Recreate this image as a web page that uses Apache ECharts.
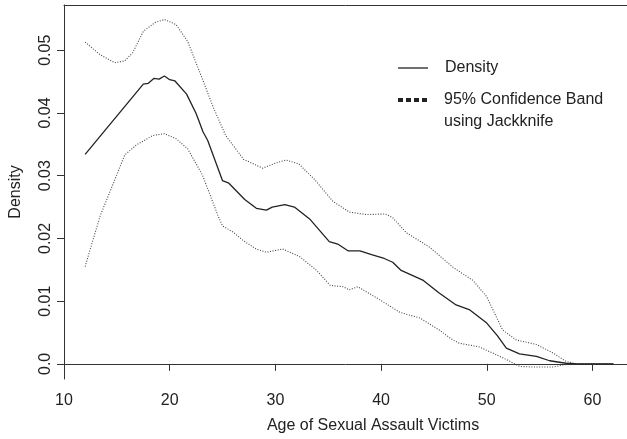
<!DOCTYPE html>
<html>
<head>
<meta charset="utf-8">
<script src="https://cdn.jsdelivr.net/npm/echarts@6/dist/echarts.min.js"></script>
<style>
  html, body { margin: 0; padding: 0; background: #fff; }
  #main { width: 627px; height: 439px; }
</style>
</head>
<body>
<div id="main"></div>
<script>
// tick positions
var xTicks = [10, 20, 30, 40, 50, 60];
var yTicks = [0, 0.01, 0.02, 0.03, 0.04, 0.05];

// kernel density estimate, [age, density]
var density = [
  [12.0, 0.0334], [17.5, 0.0446], [17.95, 0.0447], [18.5, 0.0455], [19.0, 0.0454],
  [19.5, 0.0459], [20.0, 0.0453], [20.5, 0.0451], [21.6, 0.0430], [22.5, 0.0399],
  [23.15, 0.0370], [23.6, 0.0356], [25.0, 0.0292], [25.6, 0.0288], [27.1, 0.0262],
  [28.2, 0.0248], [29.15, 0.0245], [29.7, 0.0250], [30.9, 0.0254], [31.8, 0.0250],
  [33.3, 0.0230], [35.1, 0.0195], [35.9, 0.0191], [36.9, 0.0180], [38.0, 0.0180],
  [39.1, 0.0174], [40.3, 0.0168], [41.1, 0.0162], [41.9, 0.0149], [44.0, 0.0133],
  [45.5, 0.0113], [47.1, 0.0094], [48.4, 0.0086], [50.0, 0.0065], [51.0, 0.0045],
  [51.85, 0.0025], [53.1, 0.0016], [54.7, 0.0012], [55.95, 0.0005], [57.5, 0.0001],
  [58.5, 0.0], [62.0, 0.0]
];

// upper 95% band (jackknife)
var upper = [
  [12.0, 0.0513], [13.4, 0.0493], [14.8, 0.0480], [15.75, 0.0483], [16.5, 0.0496],
  [17.5, 0.0530], [18.6, 0.0544], [19.5, 0.0549], [20.6, 0.0541], [21.7, 0.0514],
  [22.8, 0.0467], [24.1, 0.0410], [25.3, 0.0364], [27.0, 0.0326], [28.8, 0.0312],
  [30.0, 0.0320], [31.0, 0.0325], [32.2, 0.0319], [33.7, 0.0294], [35.45, 0.0259],
  [37.0, 0.0242], [38.6, 0.0238], [40.4, 0.0239], [41.1, 0.0233], [42.4, 0.0209],
  [44.6, 0.0186], [46.8, 0.0154], [48.7, 0.0133], [50.0, 0.0107], [51.5, 0.0054],
  [52.8, 0.0038], [54.7, 0.0031], [56.3, 0.0017], [57.5, 0.0004], [58.5, 0.0],
  [62.0, 0.0]
];

// lower 95% band (jackknife)
var lower = [
  [12.0, 0.0155], [13.4, 0.0235], [14.6, 0.0285], [15.75, 0.0333], [16.85, 0.0349],
  [18.4, 0.0364], [19.5, 0.0367], [20.6, 0.0359], [21.7, 0.0343], [23.1, 0.0301],
  [24.6, 0.0235], [25.0, 0.0220], [26.0, 0.0210], [27.0, 0.0196], [28.2, 0.0183],
  [29.15, 0.0178], [30.7, 0.0183], [32.3, 0.0171], [33.9, 0.0149], [35.2, 0.0125],
  [36.4, 0.0123], [37.0, 0.0118], [37.8, 0.0123], [39.9, 0.0102], [41.8, 0.0082],
  [43.7, 0.0073], [45.5, 0.0054], [46.8, 0.0038], [47.4, 0.0033], [49.3, 0.0027],
  [50.6, 0.0017], [51.85, 0.0007], [53.1, -0.0004], [54.4, -0.0005], [56.3, -0.0005],
  [57.5, -0.0001], [58.5, 0.0], [62.0, 0.0]
];

var ink = '#222';
var frame = '#333';
var font = 'Liberation Sans, Arial, Helvetica, sans-serif';

var myChart = echarts.init(document.getElementById('main'));

function bandLine(data) {
  return {
    type: 'line', data: data, symbol: 'none', silent: true,
    lineStyle: { color: '#444', width: 1.1, type: [1, 1.6] }
  };
}

myChart.setOption({
  animation: false,
  textStyle: { fontFamily: font, color: ink },
  grid: { left: 64, top: 5, bottom: 56, right: 0 },
  xAxis: [{
    type: 'value', min: 10, max: 63.27,
    name: 'Age of Sexual Assault Victims',
    nameLocation: 'middle', nameGap: 39,
    nameTextStyle: { fontSize: 16, color: ink, fontFamily: font, padding: [0, 0, 0, 55] },
    axisLine: { show: true, lineStyle: { color: frame, width: 1 } },
    splitLine: { show: false },
    axisTick: { show: true, length: 7, inside: false, lineStyle: { color: frame }, customValues: xTicks },
    axisLabel: { fontSize: 16, color: ink, margin: 14, customValues: xTicks }
  }, {
    // top edge of the box
    type: 'value', position: 'top', min: 10, max: 63.27,
    axisLine: { show: true, lineStyle: { color: frame, width: 1 } },
    axisTick: { show: false }, axisLabel: { show: false }, splitLine: { show: false }
  }],
  yAxis: {
    type: 'value', min: -0.00241, max: 0.05721,
    name: 'Density',
    nameLocation: 'middle', nameGap: 40,
    nameTextStyle: { fontSize: 16, color: ink, fontFamily: font },
    axisLine: { show: true, lineStyle: { color: frame, width: 1 } },
    splitLine: { show: false },
    axisTick: { show: true, length: 7, inside: false, lineStyle: { color: frame }, customValues: yTicks },
    axisLabel: {
      fontSize: 16, color: ink, margin: 10, rotate: 90, customValues: yTicks,
      formatter: function (v) { return v === 0 ? '0.0' : String(+v.toFixed(2)); }
    }
  },
  series: [
    bandLine(upper),
    bandLine(lower),
    {
      type: 'line', data: density, symbol: 'none', silent: true,
      lineStyle: { color: ink, width: 1.3 }
    }
  ],
  graphic: [
    { type: 'line', shape: { x1: 398, y1: 68, x2: 428, y2: 68 }, style: { stroke: ink, lineWidth: 1.3 } },
    { type: 'text', x: 445, y: 68, style: { text: 'Density', font: '16px ' + font, fill: ink, verticalAlign: 'middle' } },
    { type: 'line', shape: { x1: 398, y1: 100, x2: 429, y2: 100 }, style: { stroke: ink, lineWidth: 4, lineDash: [5, 3] } },
    { type: 'text', x: 444, y: 100, style: { text: '95% Confidence Band', font: '16px ' + font, fill: ink, verticalAlign: 'middle' } },
    { type: 'text', x: 444, y: 122, style: { text: 'using Jackknife', font: '16px ' + font, fill: ink, verticalAlign: 'middle' } }
  ]
});
</script>
</body>
</html>
